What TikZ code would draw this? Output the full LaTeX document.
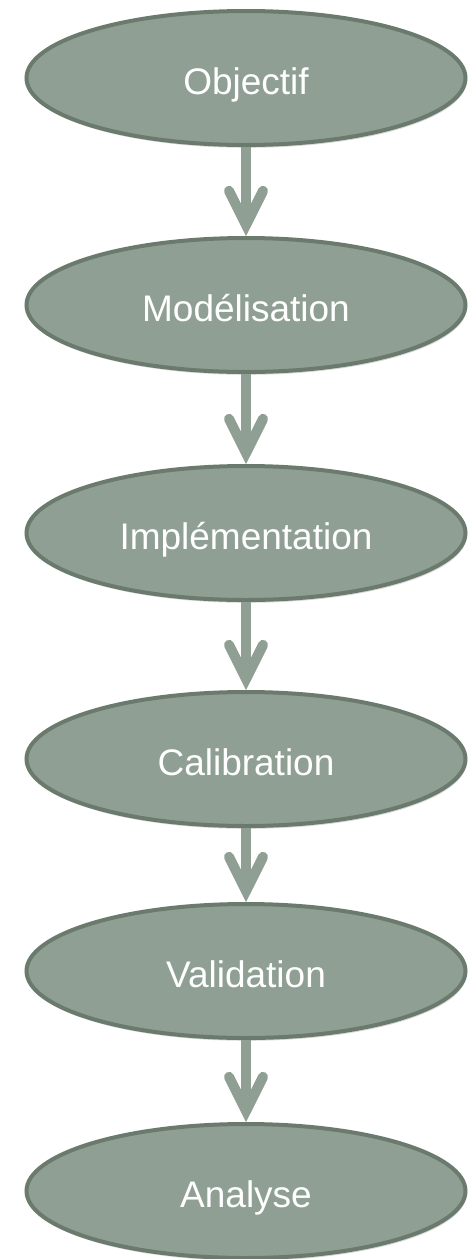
\documentclass[tikz,border=0pt]{standalone}
\usepackage{fontspec}
\setmainfont{Liberation Sans}
\usepackage{tikz}
\usetikzlibrary{positioning,arrows.meta,calc,shapes.geometric,shadows}
\definecolor{sage}{RGB}{143,159,148}
\definecolor{sagedk}{RGB}{106,122,109}
\newlength{\ew}
\setlength{\ew}{219.5pt}
\newlength{\eh}
\setlength{\eh}{67pt}
\tikzset{
  stage/.style ={draw=sagedk,ellipse,fill=sage,line width=2pt,
                 minimum width=\ew,minimum height=\eh,align=center,
                 drop shadow={shadow xshift=0.6pt,shadow yshift=-1.4pt,opacity=0.3}},
  stext/.style ={font=\fontsize{18.5}{22}\selectfont,text=white,
                 text height=16.75pt,text depth=0pt},
  link/.style  ={-{Straight Barb[length=17pt,width=17pt,line cap=round,line join=miter]},
                 draw=sage,line width=5pt,
                 preaction={draw=black,opacity=0.25,
                            transform canvas={xshift=1.8pt,yshift=-1.6pt}}}
}

\begin{document}
\begin{tikzpicture}[x=0.5pt,y=0.5pt]
\useasboundingbox (0,0) rectangle (475,-1259);

\node[stage,stext] (obj)  at (246,-78)          {Objectif};
\node[stage,stext] (mod)  at ($(obj)+(0,-227)$)  {Modélisation};
\node[stage,stext] (impl) at ($(mod)+(0,-228)$)  {Implémentation};
\node[stage,stext] (cal)  at ($(impl)+(0,-226)$) {Calibration};
\node[stage,stext] (val)  at ($(cal)+(0,-212)$)  {Validation};
\node[stage,stext] (ana)  at ($(val)+(0,-220)$)  {Analyse};


\draw[link] (obj)  -- (mod);
\draw[link] (mod)  -- (impl);
\draw[link] (impl) -- (cal);
\draw[link] (cal)  -- (val);
\draw[link] (val)  -- (ana);

\end{tikzpicture}
\end{document}
